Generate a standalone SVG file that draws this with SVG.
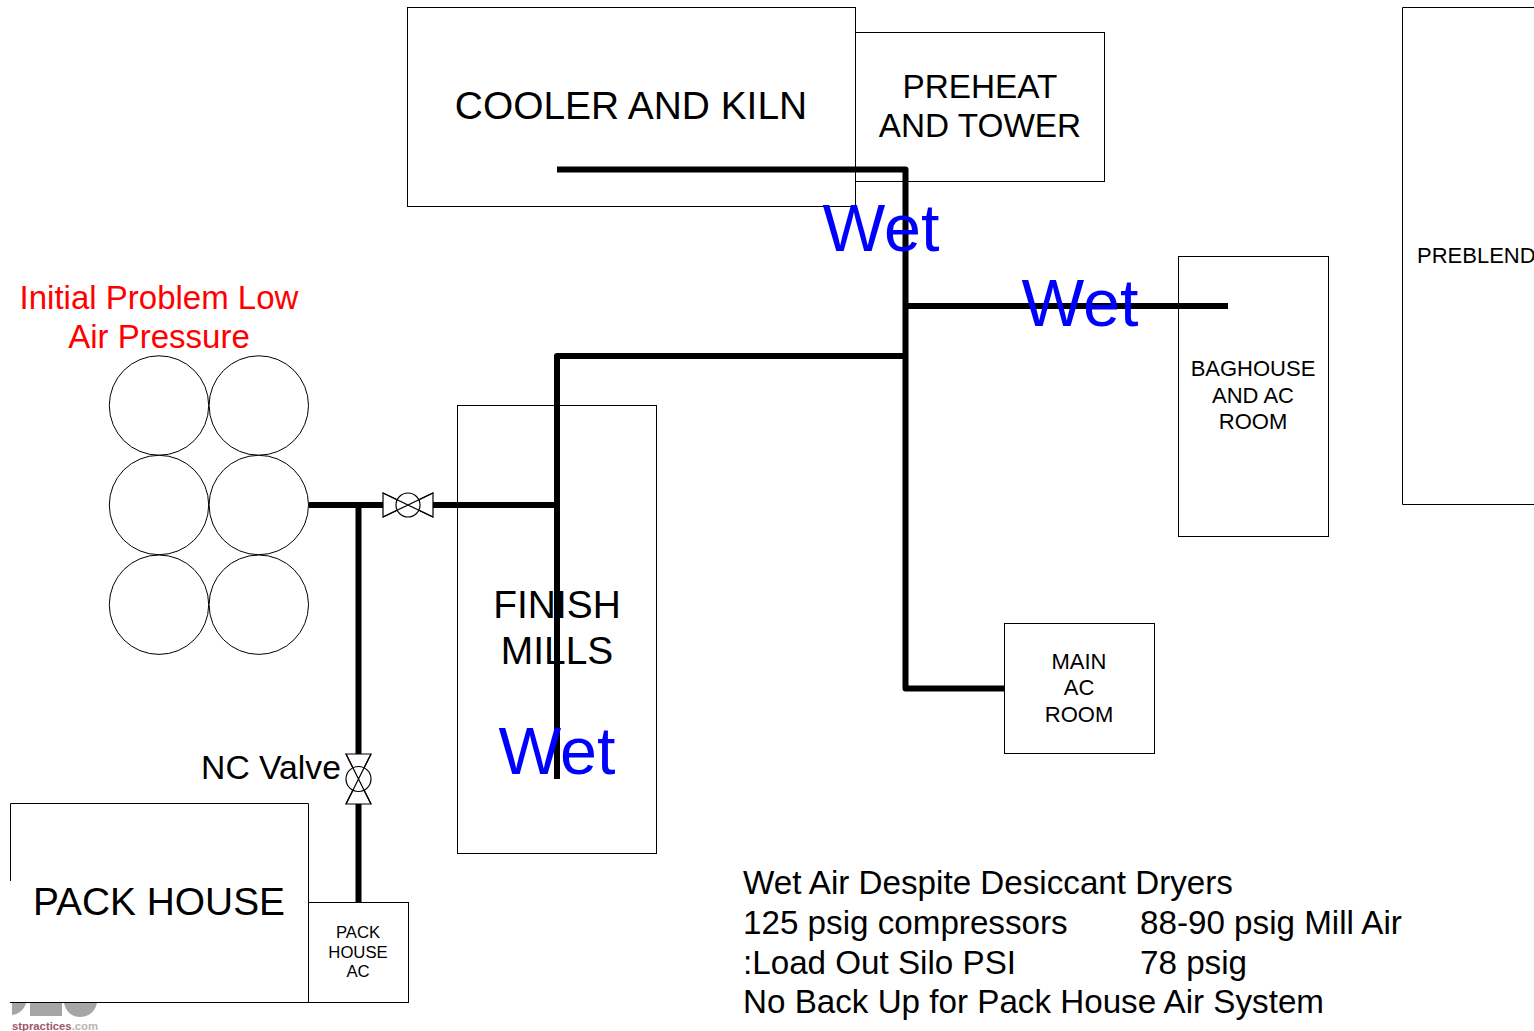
<svg xmlns="http://www.w3.org/2000/svg" width="1534" height="1031" viewBox="0 0 1534 1031">
<style>
text{font-family:"Liberation Sans",Arial,sans-serif;fill:#000;text-anchor:middle}
.box{fill:#fff;stroke:#000;stroke-width:1}
.pipe{fill:none;stroke:#000;stroke-width:6;stroke-linejoin:round}
.sym{fill:#fff;stroke:#000;stroke-width:1.200}
.wet{font-size:66.500px;fill:#00f}
.red{font-size:33px;fill:#f00}
.note{font-size:33.200px;text-anchor:start}
.logo{fill:#a6a6a6}
</style>
<rect width="1534" height="1031" fill="#fff"/>
<g id="logo">
<path class="logo" d="M12 1003H26C24 1010 19 1014 12 1015Z"/>
<path class="logo" d="M30 1003H62V1016H30Z"/>
<path class="logo" d="M64 1003H97C95 1012 88 1017 80 1017C72 1017 66 1012 64 1003Z"/>
<text x="12" y="1030" style="font-size:11.300px;font-weight:bold;text-anchor:start;fill:#a0566c">stpractices<tspan fill="#b5b5b5">.com</tspan></text>
</g>
<g id="cooler-kiln"><rect class="box" x="407.500" y="7.500" width="448" height="199"/><text x="631" y="118.500" font-size="38.900">COOLER AND KILN</text></g>
<g id="preheat-tower"><rect class="box" x="855.500" y="32.500" width="249" height="149"/><text x="980" y="97.500" font-size="33.300">PREHEAT</text><text x="980" y="136.500" font-size="33.300">AND TOWER</text></g>
<g id="preblend"><path class="box" d="M1534 7.500H1402.500V504.500H1534"/><text x="1417" y="263" font-size="22" style="text-anchor:start">PREBLEND</text></g>
<g id="baghouse"><rect class="box" x="1178.500" y="256.500" width="150" height="280"/><text x="1253" y="376" font-size="22">BAGHOUSE</text><text x="1253" y="403" font-size="22">AND AC</text><text x="1253" y="429" font-size="22">ROOM</text></g>
<g id="main-ac"><rect class="box" x="1004.500" y="623.500" width="150" height="130"/><text x="1079" y="669" font-size="22">MAIN</text><text x="1079" y="695" font-size="22">AC</text><text x="1079" y="722" font-size="22">ROOM</text></g>
<g id="finish-mills"><rect class="box" x="457.500" y="405.500" width="199" height="448"/><text x="557" y="618" font-size="38.900">FINISH</text><text x="557" y="664" font-size="38.900">MILLS</text></g>
<g id="pack-house"><path class="box" d="M10.500 881V803.500H308.500V1002.500H10"/><text x="159" y="915" font-size="38.900">PACK HOUSE</text></g>
<g id="pack-house-ac"><rect class="box" x="308.500" y="902.500" width="100" height="100"/><text x="358" y="938" font-size="16.700">PACK</text><text x="358" y="958" font-size="16.700">HOUSE</text><text x="358" y="977" font-size="16.700">AC</text></g>
<g id="compressors" fill="#fff" stroke="#000" stroke-width="1">
<circle cx="159" cy="405.500" r="49.700"/><circle cx="258.800" cy="405.500" r="49.700"/>
<circle cx="159" cy="505" r="49.700"/><circle cx="258.800" cy="505" r="49.700"/>
<circle cx="159" cy="604.700" r="49.700"/><circle cx="258.800" cy="604.700" r="49.700"/>
</g>
<g id="connectors">
<path class="pipe" d="M557 169.500H905.500V688.500H1005"/>
<path class="pipe" d="M905.500 306H1228"/>
<path class="pipe" d="M905.500 356H557V779"/>
<path class="pipe" d="M309 505H557"/>
<path class="pipe" d="M358.500 505V903"/>
</g>
<g id="valve-main">
<path class="sym" d="M383 493L433 517V493L383 517Z"/><circle class="sym" cx="408" cy="505" r="12"/><path d="M383 493L433 517M433 493L383 517" stroke="#000" stroke-width="1.200" fill="none"/>
</g>
<g id="valve-nc">
<path class="sym" d="M346 754H371L346 804H371Z"/><circle class="sym" cx="358.500" cy="779" r="12.500"/><path d="M346 754L371 804M371 754L346 804" stroke="#000" stroke-width="1.200" fill="none"/>
</g>
<g id="labels">
<text class="red" x="159" y="309">Initial Problem Low</text>
<text class="red" x="159" y="348">Air Pressure</text>
<text x="271" y="779" font-size="33.700">NC Valve</text>
<text class="wet" x="881" y="251">Wet</text>
<text class="wet" x="1080" y="326">Wet</text>
<text class="wet" x="557" y="774">Wet</text>
<text class="note" x="743" y="894">Wet Air Despite Desiccant Dryers</text>
<text class="note" x="743" y="934">125 psig compressors</text>
<text class="note" x="1140" y="934">88-90 psig Mill Air</text>
<text class="note" x="743" y="974">:Load Out Silo PSI</text>
<text class="note" x="1140" y="974">78 psig</text>
<text class="note" x="743" y="1013">No Back Up for Pack House Air System</text>
</g>
</svg>
